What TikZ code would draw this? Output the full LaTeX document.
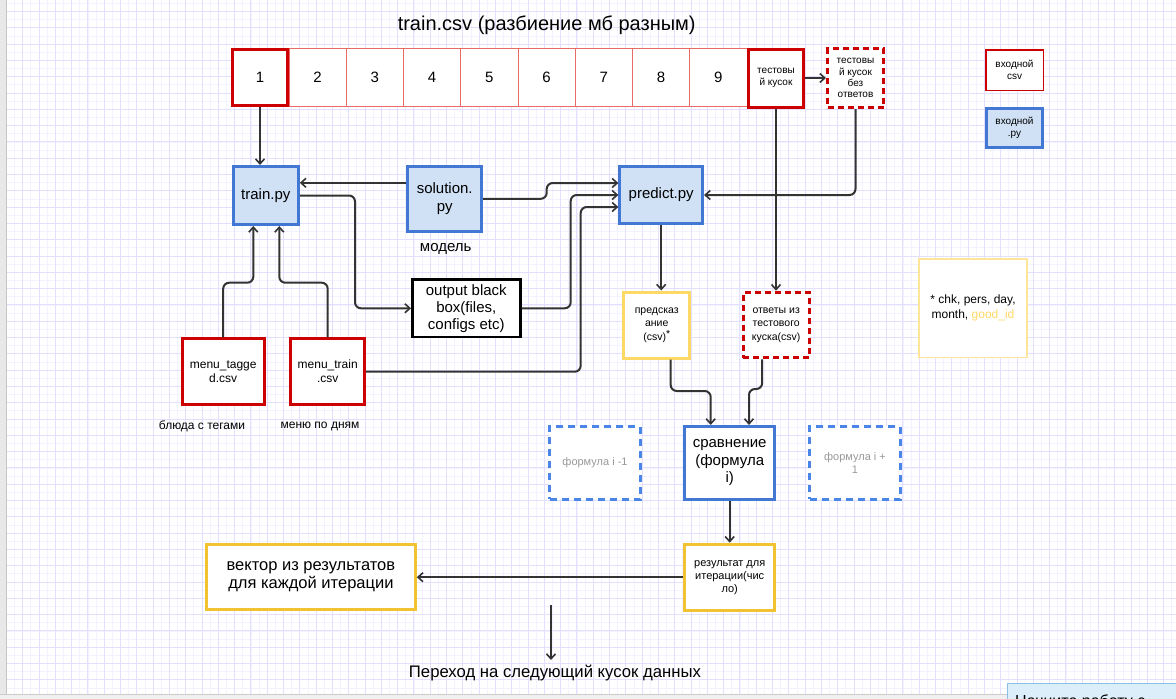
\documentclass[tikz,border=0pt]{standalone}
\usepackage{fontspec}
\setmainfont{Liberation Sans}
\usetikzlibrary{arrows.meta}
\definecolor{redc}{HTML}{CC0000}
\definecolor{redl}{HTML}{EA6B66}
\definecolor{bluec}{HTML}{4277D4}
\definecolor{bluef}{HTML}{D0E1F5}
\definecolor{blued}{HTML}{4A86E8}
\definecolor{yel1}{HTML}{FFD966}
\definecolor{yel2}{HTML}{F1C232}
\definecolor{yel3}{HTML}{FFE599}
\definecolor{lineg}{HTML}{333333}
\definecolor{gridmaj}{HTML}{E3E0FF}
\definecolor{gridmin}{HTML}{F3F2FF}
\definecolor{greytxt}{HTML}{999999}
\definecolor{noticef}{HTML}{DCEEF9}
\definecolor{noticed}{HTML}{8DBFE4}
\newcommand{\fsz}[2]{\fontsize{#1}{#2}\selectfont}
\begin{document}
\begin{tikzpicture}[x=1pt,y=-1pt,
  box/.style={draw, inner sep=0pt, align=center, fill=white},
  redthick/.style={box, draw=redc, line width=3pt},
  redthin/.style={box, draw=redl, line width=1pt},
  reddash/.style={box, draw=redc, line width=3pt, dash pattern=on 6pt off 4pt},
  bluebox/.style={box, draw=bluec, line width=3pt, fill=bluef},
  bluewhite/.style={box, draw=bluec, line width=3pt},
  bluedash/.style={box, draw=blued, line width=3pt, dash pattern=on 7pt off 5pt, text=greytxt},
  yelbox/.style={box, draw=yel2, line width=3pt},
  plain/.style={inner sep=0pt, align=center},
  conn/.style={draw=lineg, line width=2pt, rounded corners=6pt,
    -{Straight Barb[length=5pt,width=9pt,line width=1.6pt]}},
]
\useasboundingbox (0,0) rectangle (1176,699);
\clip (0,0) rectangle (1176,699);
\fill[white] (0,0) rectangle (1176,699);
% grid
\foreach \i in {0,...,145} \draw[color=gridmin, line width=0.8pt] ({6.4+8.15*\i-8.15},0) -- ({6.4+8.15*\i-8.15},699);
\foreach \i in {0,...,87} \draw[color=gridmin, line width=0.8pt] (0,{11.5+8.15*\i-8.15}) -- (1176,{11.5+8.15*\i-8.15});
\foreach \i in {0,...,72} \draw[color=gridmaj, line width=1pt] ({6.4+16.3*\i},0) -- ({6.4+16.3*\i},699);
\foreach \i in {0,...,43} \draw[color=gridmaj, line width=1pt] (0,{11.5+16.3*\i}) -- (1176,{11.5+16.3*\i});
% window frame
\fill[gray!18] (0,0) rectangle (6,699);
\draw[gray!45, line width=1pt] (6.5,0) -- (6.5,699);
\fill[gray!12] (0,695) rectangle (1007,699);
\draw[gray!40, line width=1pt] (0,694.5) -- (1007,694.5);
\filldraw[fill=noticef, draw=noticed, line width=1pt] (1007,683.3) rectangle (1190,720);
\node[anchor=north west, inner sep=0pt, font=\fsz{16}{19}] (notice) at (1015,694.5) {Начните работу с};

% title
\node[plain, font=\fsz{20}{23}] (title) at (546.7,25) {train.csv (разбиение мб разным)};

% top row
\foreach \n [count=\k] in {2,...,9}
  \node[redthin, minimum width=57.25pt, minimum height=58pt, font=\fsz{15}{18}] (b\n) at ({289+57.25*(\k-0.5)},77.5) {\n};
\node[redthick, minimum width=55pt, minimum height=56pt, font=\fsz{15}{18}] (b1) at (260,77.5) {1};
\node[redthick, minimum width=55pt, minimum height=58pt, font=\fsz{10}{11.5}] (test) at (776,78) {тестовы\\й кусок};
\node[reddash, minimum width=56pt, minimum height=59pt, font=\fsz{10}{11.2}] (testnoans) at (855.5,78) {тестовы\\й кусок\\без\\ответов};

% legend
\node[box, draw=redc, line width=1.5pt, minimum width=57.5pt, minimum height=40.5pt, font=\fsz{10}{12}] (legcsv) at (1014.5,70) {входной\\csv};
\node[bluebox, minimum width=56pt, minimum height=39pt, font=\fsz{10}{12}] (legpy) at (1014.5,128) {входной\\.py};

% middle
\node[bluebox, minimum width=65pt, minimum height=58pt, font=\fsz{15}{18}] (train) at (265.8,195.5) {train.py};
\node[bluebox, minimum width=74pt, minimum height=65pt, font=\fsz{15}{17.5}] (solution) at (444.7,198.8) {solution.\\py};
\node[plain, font=\fsz{15}{18}] (model) at (445.7,249.3) {модель};
\node[box, draw=black, line width=2.5pt, minimum width=108pt, minimum height=57.5pt, font=\fsz{15}{17}] (blackbox) at (466.3,308.3) {output black\\box(files,\\configs etc)};
\node[redthick, minimum width=82pt, minimum height=65.7pt, font=\fsz{12}{14}] (mtag) at (223.2,371.7) {menu\_tagge\\d.csv};
\node[redthick, minimum width=73.7pt, minimum height=65.7pt, font=\fsz{12}{14}] (mtrain) at (327.7,371.7) {menu\_train\\.csv};
\node[plain, font=\fsz{12}{14}] (lbltag) at (202,426) {блюда с тегами};
\node[plain, font=\fsz{12}{14}] (lbltrain) at (320,426) {меню по дням};
\node[bluebox, minimum width=82.7pt, minimum height=57pt, font=\fsz{15}{18}] (predict) at (661.2,195) {predict.py};
\node[box, draw=yel1, line width=3pt, minimum width=65.5pt, minimum height=66pt, font=\fsz{10.5}{13.5}] (pred) at (656.7,325) {предсказ\\ание\\(csv)\raisebox{3pt}{*}};
\node[reddash, minimum width=66pt, minimum height=65.6pt, font=\fsz{10.5}{13.5}] (answers) at (776.2,325) {ответы из\\тестового\\куска(csv)};
\node[box, draw=yel3, line width=1.5pt, minimum width=108pt, minimum height=98.5pt, font=\fsz{12}{15}] (note) at (973,308.3) {* chk, pers, day,\\month, \textcolor{yel1}{good\_id}};

% bottom
\node[bluewhite, minimum width=89.7pt, minimum height=72.7pt, font=\fsz{15}{17.7}] (compare) at (729.7,462.8) {сравнение\\(формула\\i)};
\node[bluedash, minimum width=90.4pt, minimum height=72.7pt, font=\fsz{11}{13}] (fprev) at (595,462.8) {формула i -1};
\node[bluedash, minimum width=90.4pt, minimum height=72.7pt, font=\fsz{11}{13}] (fnext) at (855,462.8) {формула i +\\1};
\node[yelbox, minimum width=89.7pt, minimum height=66pt, font=\fsz{11}{13}] (result) at (729.7,577.2) {результат для\\итерации(чис\\ло)};
\node[yelbox, minimum width=208.8pt, minimum height=64.4pt, font=\fsz{16.5}{18.5}] (vector) at (310.9,577) {вектор из результатов\\для каждой итерации};
\node[plain, font=\fsz{16.7}{19}] (next) at (555,672.7) {Переход на следующий кусок данных};

% connectors
\draw[conn] (b1.south) -- (b1.south |- train.north);
\draw[conn] (test.east) -- (testnoans.west);
\coordinate (s1) at ([yshift=16pt]solution.west);
\draw[conn] (s1) -- (s1 -| train.east);
\coordinate (p1) at ([yshift=12pt]predict.west);
\coordinate (p3) at ([yshift=-12pt]predict.west);
\draw[conn] (solution.east) -| (546.7,183) -- (p1);
\draw[conn] (train.east) -| (355,308.3) -- (blackbox.west);
\draw[conn] (blackbox.east) -| (570.7,195) -- (predict.west);
\draw[conn] (mtrain.east) -| (580.7,207) -- (p3);
\coordinate (t1) at ([xshift=-12.5pt]train.south);
\coordinate (t2) at ([xshift=13.5pt]train.south);
\draw[conn] (mtag.north) |- (253.3,282.7) -- (t1);
\draw[conn] (mtrain.north) |- (279.3,282.7) -- (t2);
\draw[conn] (testnoans.south) |- (predict.east);
\draw[conn] (test.south) -- (test.south |- answers.north);
\draw[conn] (predict.south) -- (predict.south |- pred.north);
\coordinate (c1) at ([xshift=-19pt]compare.north);
\coordinate (c2) at ([xshift=19.3pt]compare.north);
\coordinate (q1) at ([xshift=14pt]pred.south);
\coordinate (q2) at ([xshift=-14pt]answers.south);
\draw[conn] (q1) |- (710.7,391) -- (c1);
\draw[conn] (q2) |- (749,389) -- (c2);
\draw[conn] (compare.south) -- (compare.south |- result.north);
\draw[conn] (result.west) -- (result.west -| vector.east);
\coordinate (a1) at (551,605);
\coordinate (a2) at (551,660);
\draw[conn] (a1) -- (a2);
\end{tikzpicture}
\end{document}
